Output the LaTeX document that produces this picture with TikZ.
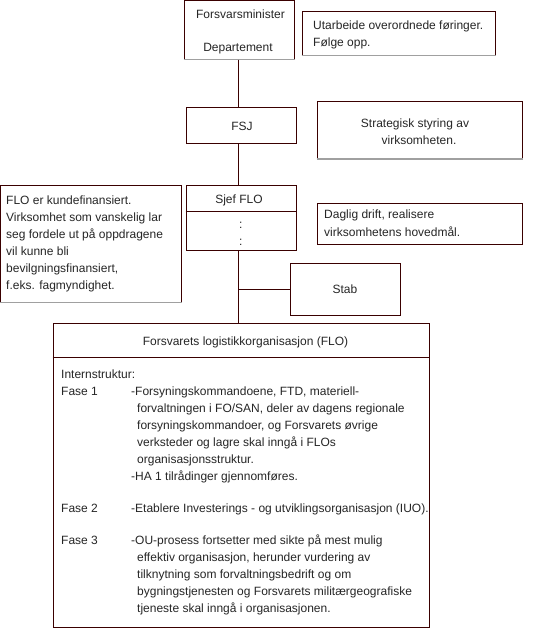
\documentclass[tikz,border=0pt]{standalone}
\usepackage{fontspec}
\setmainfont{Liberation Sans}
\definecolor{edge}{HTML}{3A0000}
\definecolor{shade}{HTML}{A0A0A0}
\begin{document}
\begin{tikzpicture}[x=1pt,y=-1pt,
  box/.style={draw=edge, line width=1pt, rectangle, inner sep=0pt},
  link/.style={draw=edge, line width=1pt},
  shadeline/.style={draw=shade, line width=1.6pt},
  txt/.style={anchor=base west, inner sep=0pt, font=\fontsize{12}{13}\selectfont, text=black!85},
  ctxt/.style={anchor=base, inner sep=0pt, font=\fontsize{12}{13}\selectfont, text=black!85}]
\useasboundingbox (0,0) rectangle (541,630);
\fill[white] (0,0) rectangle (541,630);
\coordinate (spine) at (238,0);
% boxes
\node[box, minimum width=110pt, minimum height=59pt] (fm) at (239,29.5) {};
\node[box, minimum width=193pt, minimum height=44pt] (ut) at (398.5,33) {};
\node[box, minimum width=110pt, minimum height=36pt] (fsj) at (241,125) {};
\node[box, minimum width=205pt, minimum height=57pt] (str) at (419.5,130) {};
\node[box, minimum width=181pt, minimum height=117pt] (flo) at (91,243.5) {};
\node[box, minimum width=110pt, minimum height=65pt] (sjef) at (241,217.5) {};
\node[box, minimum width=205pt, minimum height=41pt] (dag) at (419.5,223.5) {};
\node[box, minimum width=110pt, minimum height=52pt] (stab) at (345,289.5) {};
\node[box, minimum width=376pt, minimum height=304pt] (big) at (241,475) {};
% gray bottom edges
\draw[shadeline] (fm.south west) -- (fm.south east);
\draw[shadeline] (ut.south west) -- (ut.south east);
\draw[shadeline] (str.south west) -- (str.south east);
\draw[shadeline] (flo.south west) -- (flo.south east);
% dividers
\coordinate (dvs) at (0,211);
\coordinate (dvb) at (0,357);
\draw[link] (sjef.west |- dvs) -- (sjef.east |- dvs);
\draw[link] (big.west |- dvb) -- (big.east |- dvb);
% connectors
\draw[link] (fm.south -| spine) -- (fsj.north -| spine);
\draw[link] (fsj.south -| spine) -- (sjef.north -| spine);
\draw[link] (sjef.south -| spine) -- (big.north -| spine);
\draw[link] (spine |- stab.west) -- (stab.west);
% texts
\node[ctxt] (t1) at (240.5,18) {Forsvarsminister};
\node[ctxt] (t2) at (238,51) {Departement};
\node[txt] (t3) at (313,29) {Utarbeide overordnede føringer.};
\node[txt] (t4) at (313,46) {Følge opp.};
\node[ctxt] (t5) at (242,130) {FSJ};
\node[ctxt] (t6) at (415,127) {Strategisk styring av};
\node[ctxt] (t7) at (419,144) {virksomheten.};
\node[ctxt] (t8) at (239,203) {Sjef FLO};
\node[ctxt] (t9) at (240.7,228) {:};
\node[ctxt] (t10) at (240.7,245) {:};
\node[txt] (f1) at (6,204) {FLO er kundefinansiert.};
\node[txt] (f2) at (6,221) {Virksomhet som vanskelig lar};
\node[txt] (f3) at (6,238) {seg fordele ut på oppdragene};
\node[txt] (f4) at (6,255) {vil kunne bli};
\node[txt] (f5) at (6,272) {bevilgningsfinansiert,};
\node[txt] (f6) at (6,289) {f.eks. fagmyndighet.};
\node[txt] (d1) at (324,218) {Daglig drift, realisere};
\node[txt] (d2) at (324,236) {virksomhetens hovedmål.};
\node[ctxt] (s1) at (345,293) {Stab};
\node[ctxt] (b0) at (245.5,345) {Forsvarets logistikkorganisasjon (FLO)};
\node[txt] (b1) at (61,378) {Internstruktur:};
\node[txt] (p1) at (61,395) {Fase 1};
\node[txt] (b2) at (131,395) {-Forsyningskommandoene, FTD, materiell-};
\node[txt] (b3) at (137,412) {forvaltningen i FO/SAN, deler av dagens regionale};
\node[txt] (b4) at (137,429) {forsyningskommandoer, og Forsvarets øvrige};
\node[txt] (b5) at (137,446) {verksteder og lagre skal inngå i FLOs};
\node[txt] (b6) at (137,463) {organisasjonsstruktur.};
\node[txt] (b7) at (131,480) {-HA 1 tilrådinger gjennomføres.};
\node[txt] (p2) at (61,512) {Fase 2};
\node[txt] (b8) at (131,512) {-Etablere Investerings - og utviklingsorganisasjon (IUO).};
\node[txt] (p3) at (61,544) {Fase 3};
\node[txt] (b9) at (131,544) {-OU-prosess fortsetter med sikte på mest mulig};
\node[txt] (b10) at (137,561) {effektiv organisasjon, herunder vurdering av};
\node[txt] (b11) at (137,578) {tilknytning som forvaltningsbedrift og om};
\node[txt] (b12) at (137,595) {bygningstjenesten og Forsvarets militærgeografiske};
\node[txt] (b13) at (137,612) {tjeneste skal inngå i organisasjonen.};
\end{tikzpicture}
\end{document}
